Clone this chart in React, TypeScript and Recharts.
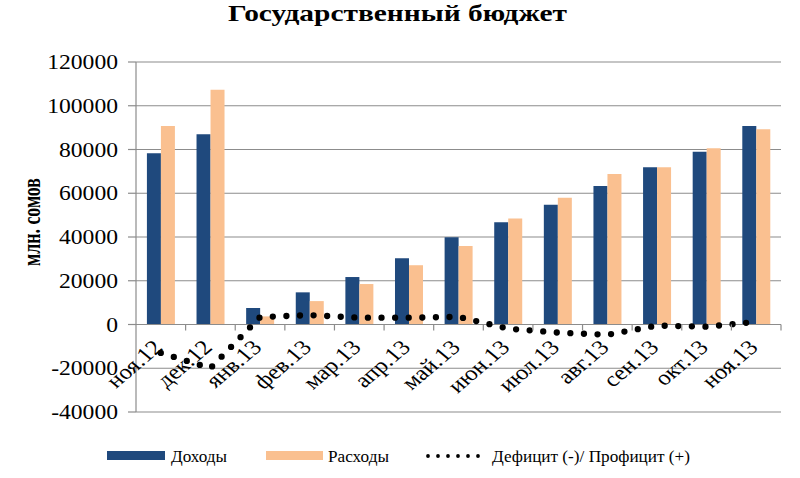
import React from 'react';
import {
  ComposedChart,
  Bar,
  Line,
  XAxis,
  YAxis,
  CartesianGrid,
  ReferenceLine,
  Legend,
} from 'recharts';

// ---------- data ----------
const categories = [
  'ноя.12', 'дек.12', 'янв.13', 'фев.13', 'мар.13', 'апр.13', 'май.13',
  'июн.13', 'июл.13', 'авг.13', 'сен.13', 'окт.13', 'ноя.13',
];
const incomes = [78300, 87000, 7500, 14700, 21700, 30300, 39900, 46800, 54700, 63300, 71900, 79000, 90800];
const expenses = [90800, 107300, 3700, 10700, 18500, 27100, 35900, 48500, 57900, 68800, 71900, 80600, 89300];
const balance = [-13000, -20000, 3400, 4300, 3100, 3100, 3500, -1900, -3700, -4700, -500, -1000, 1200];
const yTicks = [-40000, -20000, 0, 20000, 40000, 60000, 80000, 100000, 120000];
const seriesNames = ['Доходы', 'Расходы', 'Дефицит (-)/ Профицит (+)'];
const titleText = 'Государственный бюджет';
const yLabelText = 'млн. сомов';

// ---------- layout / style ----------
const W = 800;
const H = 478;
const MARGIN = { top: 62, right: 19, left: 0, bottom: 0 };
const YAXIS_W = 136;
const XAXIS_H = 30;
const LEGEND_H = 36;
const Y_MIN = -40000;
const Y_MAX = 120000;
const PLOT_W = W - MARGIN.left - MARGIN.right - YAXIS_W;
const PLOT_H = H - MARGIN.top - MARGIN.bottom - XAXIS_H - LEGEND_H;
const ZERO_Y = MARGIN.top + (PLOT_H * Y_MAX) / (Y_MAX - Y_MIN);
const STRETCH = 1.18;
const FONT = 'Liberation Serif, Times New Roman, serif';
const BLUE = '#1F497D';
const PEACH = '#FAC090';
const GRID = '#8C8C8C';

const data = categories.map((c, i) => ({
  name: c,
  income: incomes[i],
  expense: expenses[i],
  balance: balance[i],
}));

const XTick = (props: any) => {
  const { x, payload } = props;
  const half = PLOT_W / categories.length / 2;
  return (
    <g>
      <line x1={x + half} x2={x + half} y1={ZERO_Y} y2={ZERO_Y + 6} stroke={GRID} strokeWidth={1.2} />
      <text
        transform={`translate(${x + 3},${ZERO_Y + 24}) scale(${STRETCH},1) rotate(-45)`}
        textAnchor="end"
        fontSize={21}
        fontFamily={FONT}
        fill="#000"
      >
        {payload.value}
      </text>
    </g>
  );
};

const YTick = (props: any) => {
  const { x, y, payload } = props;
  return (
    <text
      transform={`translate(${x},${y + 7}) scale(${STRETCH},1)`}
      textAnchor="end"
      fontSize={20}
      fontFamily={FONT}
      fill="#000"
    >
      {payload.value}
    </text>
  );
};

const YLabel = () => (
  <text
    transform={`translate(40,222) scale(${STRETCH},1) rotate(-90)`}
    textAnchor="middle"
    fontSize={22}
    fontWeight="bold"
    fontFamily={FONT}
    textLength={88}
    lengthAdjust="spacingAndGlyphs"
    fill="#000"
  >
    {yLabelText}
  </text>
);

const LegendContent = () => (
  <svg width={W} height={LEGEND_H} style={{ display: 'block' }}>
    <rect x={107} y={9} width={58} height={9} fill={BLUE} />
    <text x={171} y={20} fontSize={17} fontFamily={FONT} textLength={56} lengthAdjust="spacingAndGlyphs" fill="#000">
      {seriesNames[0]}
    </text>
    <rect x={266} y={9} width={57} height={9} fill={PEACH} />
    <text x={328} y={20} fontSize={17} fontFamily={FONT} textLength={61} lengthAdjust="spacingAndGlyphs" fill="#000">
      {seriesNames[1]}
    </text>
    <line x1={428} x2={479} y1={14} y2={14} stroke="#000" strokeWidth={3.8} strokeDasharray="0 10" strokeLinecap="round" />
    <text x={492} y={20} fontSize={17} fontFamily={FONT} textLength={198} lengthAdjust="spacingAndGlyphs" fill="#000">
      {seriesNames[2]}
    </text>
  </svg>
);

export default function App() {
  return (
    <div style={{ position: 'absolute', left: 0, top: 0, width: W, height: H, background: '#fff' }}>
      <svg width={W} height={40} style={{ position: 'absolute', left: 0, top: 0, zIndex: 2 }}>
        <text
          x={397.5}
          y={21}
          textAnchor="middle"
          fontSize={23}
          fontWeight="bold"
          fontFamily={FONT}
          textLength={339}
          lengthAdjust="spacingAndGlyphs"
          fill="#000"
        >
          {titleText}
        </text>
      </svg>
      <ComposedChart
        width={W}
        height={H}
        data={data}
        margin={MARGIN}
        barCategoryGap="22%"
        barGap={0}
        style={{ fontFamily: FONT }}
      >
        <CartesianGrid horizontal vertical={false} stroke={GRID} strokeWidth={1.2} />
        <XAxis
          dataKey="name"
          height={XAXIS_H}
          axisLine={false}
          tickLine={false}
          interval={0}
          tick={<XTick />}
        />
        <YAxis
          width={YAXIS_W}
          domain={[Y_MIN, Y_MAX]}
          ticks={yTicks}
          interval={0}
          tickSize={8}
          tickMargin={10}
          axisLine={{ stroke: GRID, strokeWidth: 1.2 }}
          tickLine={{ stroke: GRID, strokeWidth: 1.2 }}
          tick={<YTick />}
          label={<YLabel />}
        />
        <ReferenceLine y={0} stroke={GRID} strokeWidth={1.2} />
        <Bar dataKey="income" name={seriesNames[0]} fill={BLUE} isAnimationActive={false} />
        <Bar dataKey="expense" name={seriesNames[1]} fill={PEACH} isAnimationActive={false} />
        <Line
          dataKey="balance"
          name={seriesNames[2]}
          type="linear"
          stroke="#000"
          strokeWidth={6.3}
          strokeDasharray="0 13.6"
          strokeLinecap="round"
          dot={false}
          activeDot={false}
          isAnimationActive={false}
        />
        <Legend
          verticalAlign="bottom"
          content={<LegendContent />}
          wrapperStyle={{ left: 0, bottom: 0, width: W, height: LEGEND_H }}
        />
      </ComposedChart>
    </div>
  );
}
